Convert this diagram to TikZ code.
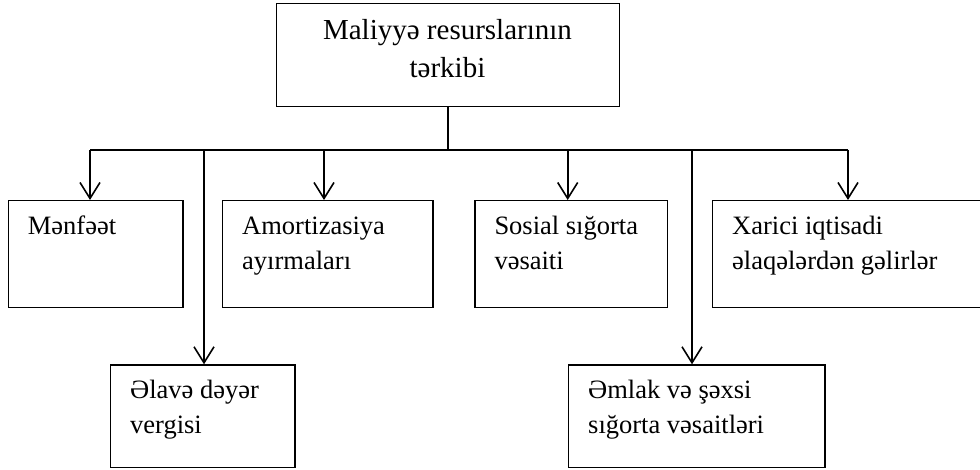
\documentclass[tikz,border=0pt]{standalone}
\usepackage{fontspec}
\setmainfont{Liberation Serif}
\usetikzlibrary{arrows.meta}
\begin{document}
\begin{tikzpicture}[x=1pt,y=-1pt,
  box/.style={draw, line width=1.2pt, inner sep=0pt, anchor=north west},
  label/.style={inner sep=0pt, anchor=base west, align=left,
    font=\fontsize{26.5}{35}\selectfont},
  title/.style={inner sep=0pt, anchor=base, align=center,
    font=\fontsize{29}{38}\selectfont},
  link/.style={line width=1.6pt},
  feed/.style={line width=1.6pt, -{Straight Barb[length=16pt,width=20pt,line width=1.6pt]}}]
\useasboundingbox (0,0) rectangle (980,470);

% root box
\node[box, minimum width=343pt, minimum height=103pt] (root) at (276,3) {};
\node[title] (rootA) at (447.5,40) {Maliyyə resurslarının};
\node[title] (rootB) at (447.5,78) {tərkibi};

% upper row
\node[box, minimum width=174.6pt, minimum height=106.7pt] (m) at (7.7,200) {};
\node[box, minimum width=210.3pt, minimum height=106.7pt] (a) at (222,200) {};
\node[box, minimum width=192.4pt, minimum height=106.7pt] (s) at (474.3,200) {};
\node[box, minimum width=273pt, minimum height=106.7pt] (x) at (712,200) {};

% lower row
\node[box, minimum width=184.3pt, minimum height=102.4pt] (e) at (110,364.3) {};
\node[box, minimum width=256.3pt, minimum height=102.4pt] (o) at (568,364.3) {};

% box texts (anchored at the baseline of their last line)
\node[label] (mt) at ([shift={(20,35)}]m.north west) {Mənfəət};
\node[label] (at) at ([shift={(20,70)}]a.north west) {Amortizasiya\\ayırmaları};
\node[label] (st) at ([shift={(20,70)}]s.north west) {Sosial sığorta\\vəsaiti};
\node[label] (xt) at ([shift={(20,70)}]x.north west) {Xarici iqtisadi\\əlaqələrdən gəlirlər};
\node[label] (et) at ([shift={(20,69)}]e.north west) {Əlavə dəyər\\vergisi};
\node[label] (ot) at ([shift={(20,69)}]o.north west) {Əmlak və şəxsi\\sığorta vəsaitləri};

% distribution bus
\coordinate (b1) at (90,150);
\coordinate (b2) at (204,150);
\coordinate (b3) at (324,150);
\coordinate (b4) at (567.7,150);
\coordinate (b5) at (692,150);
\coordinate (b6) at (848,150);

\draw[link] (root.south) -- (root.south |- b1);
\draw[link] (b1) -- (b6);
\draw[feed] (b1) -- (b1 |- m.north);
\draw[feed] (b2) -- (b2 |- e.north);
\draw[feed] (b3) -- (b3 |- a.north);
\draw[feed] (b4) -- (b4 |- s.north);
\draw[feed] (b5) -- (b5 |- o.north);
\draw[feed] (b6) -- (b6 |- x.north);
\end{tikzpicture}
\end{document}
